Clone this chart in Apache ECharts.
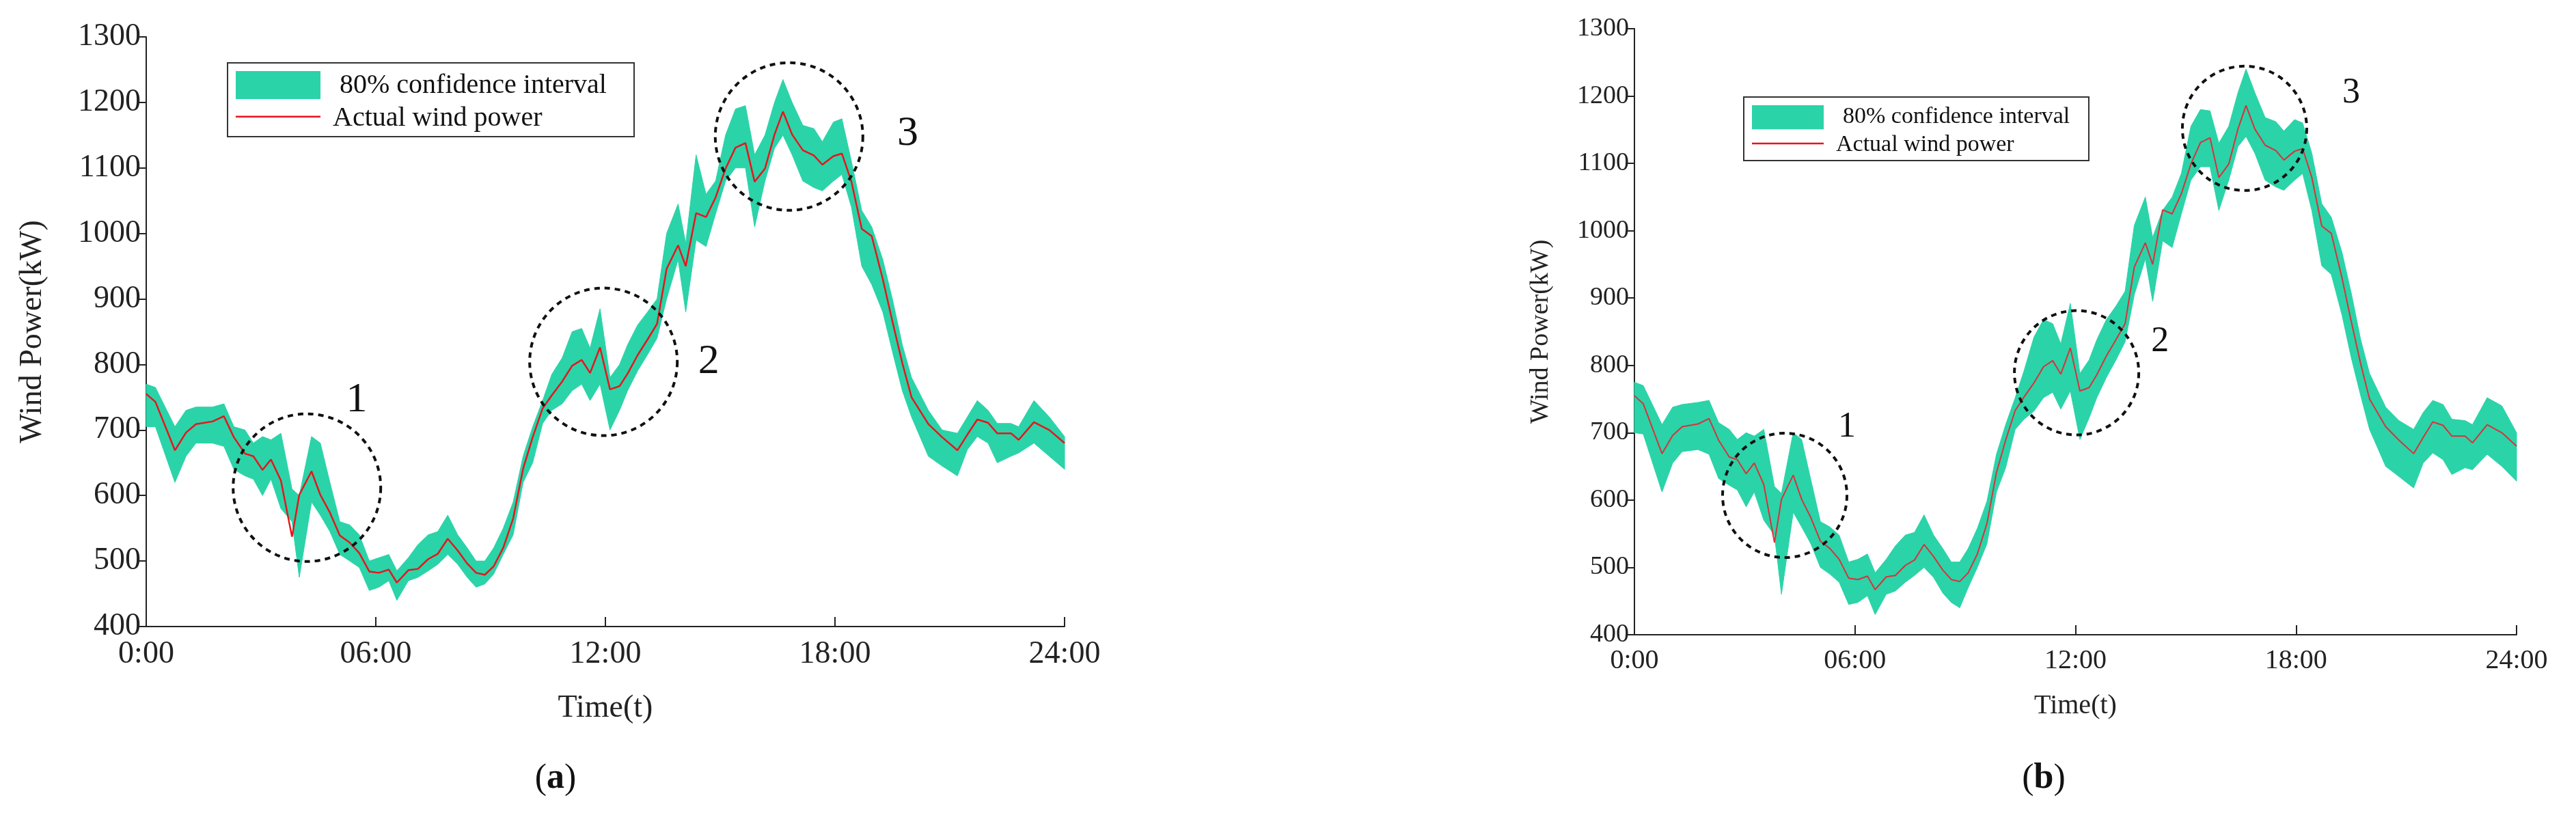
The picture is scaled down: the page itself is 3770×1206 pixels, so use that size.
<!DOCTYPE html>
<html><head><meta charset="utf-8">
<script src="https://cdn.jsdelivr.net/npm/echarts@6/dist/echarts.min.js"></script>
<style>html,body{margin:0;padding:0;background:#fff}#c{width:3770px;height:1206px}</style>
</head><body><div id="c"></div>
<script>
const times = [0,0.24,0.75,1.04,1.3,1.73,2.03,2.29,2.58,2.8,3.04,3.26,3.52,3.81,4.0,4.32,4.55,4.8,5.06,5.32,5.57,5.83,6.08,6.34,6.55,6.85,7.1,7.37,7.62,7.88,8.14,8.39,8.62,8.85,9.08,9.33,9.59,9.85,10.1,10.36,10.6,10.87,11.13,11.38,11.6,11.86,12.12,12.37,12.58,12.84,13.1,13.35,13.6,13.9,14.1,14.37,14.63,14.88,15.14,15.4,15.66,15.9,16.17,16.42,16.64,16.88,17.16,17.45,17.67,17.96,18.18,18.43,18.7,18.96,19.25,19.5,19.76,20.0,20.44,20.8,21.2,21.46,21.72,22.0,22.24,22.6,22.8,23.2,23.6,24];
const actual = [755,743,669,696,709,713,721,689,664,660,639,655,623,537,601,637,601,574,539,528,512,484,482,487,467,486,488,503,511,534,516,496,482,479,492,520,565,641,689,733,753,774,798,807,787,826,762,767,786,814,838,862,946,982,950,1031,1025,1055,1099,1131,1138,1079,1099,1151,1186,1151,1127,1119,1105,1118,1122,1079,1007,996,930,866,802,750,709,689,669,693,716,711,695,695,685,712,700,680];
const lowerA = [705,705,620,660,680,680,675,640,630,625,600,625,580,560,475,590,570,545,510,500,490,455,460,470,440,470,475,485,495,510,495,475,460,465,480,510,540,620,650,710,730,740,760,770,745,770,700,730,760,790,815,840,900,960,880,990,980,1030,1080,1100,1100,1010,1080,1130,1150,1120,1080,1070,1065,1080,1090,1040,950,922,880,820,760,720,660,645,630,670,690,680,650,660,665,680,660,640];
const upperA = [770,765,705,730,735,735,740,705,700,680,690,685,695,610,600,690,680,620,560,555,540,500,505,510,485,505,525,540,545,570,540,520,500,500,520,550,590,660,705,745,785,810,850,855,825,885,780,800,830,860,880,900,1000,1045,985,1120,1060,1080,1150,1190,1195,1120,1150,1200,1235,1200,1165,1160,1140,1170,1175,1110,1035,1010,960,900,830,780,730,700,695,720,745,730,710,710,705,745,720,690];
const lowerB = [700,698,612,655,672,675,668,632,622,615,590,612,570,548,460,582,560,535,500,490,478,445,448,458,430,460,465,478,488,500,485,462,448,440,470,500,535,612,648,705,720,732,752,760,735,762,690,722,752,782,808,835,905,958,895,985,975,1025,1075,1095,1095,1030,1075,1125,1140,1115,1075,1065,1060,1075,1085,1030,948,935,875,812,755,705,650,635,618,655,670,660,638,648,645,668,650,628];
const upperB = [775,770,712,738,742,745,748,715,705,690,700,695,705,620,610,700,690,630,568,560,548,508,512,520,492,512,532,548,552,578,548,528,508,508,528,558,598,668,712,752,792,842,868,862,832,892,788,808,838,868,888,910,1008,1050,990,1030,1050,1085,1155,1180,1178,1130,1155,1205,1240,1205,1168,1162,1148,1165,1160,1115,1040,1020,968,908,838,788,738,718,705,730,748,742,720,718,712,752,740,700];
const xTicks = ['0:00','06:00','12:00','18:00','24:00'];
const yTicks = [400,500,600,700,800,900,1000,1100,1200,1300];
const circlesA = [[4.2,612,'1',5.5,746],[11.95,804,'2',14.7,804],[16.8,1148,'3',19.9,1152]];
const circlesB = [[4.09,607,'1',5.78,708],[12.03,789,'2',14.3,835],[16.6,1152,'3',19.5,1204]];

const FONT = 'Liberation Serif';
const green = '#2bd3a8';
const pts = a => times.map((t,i)=>[t,a[i]]);
function band(lower, upper, gi){
  return {type:'custom', xAxisIndex:gi, yAxisIndex:gi, silent:true, z:2,
    data: times.map((t,i)=>[t,lower[i],upper[i]]),
    renderItem:(params, api)=>{
      if(params.dataIndex!==0) return;
      const up = times.map((t,i)=>api.coord([t,upper[i]]));
      const lo = times.map((t,i)=>api.coord([t,lower[i]])).reverse();
      return {type:'polygon', shape:{points:up.concat(lo)}, style:{fill:green, stroke:green, lineWidth:1}};
    }};
}
function xAxis(gi, fs){
  return {type:'value', gridIndex:gi, min:0, max:24, interval:6,
    axisLine:{lineStyle:{color:'#222', width:2}}, axisTick:{inside:true, length:14, lineStyle:{color:'#222',width:2}},
    splitLine:{show:false},
    axisLabel:{fontFamily:FONT, fontSize:fs, color:'#222', margin:18, formatter:v=>xTicks[v/6]},
    name:'Time(t)', nameLocation:'middle', nameGap:fs*2.1, nameTextStyle:{fontFamily:FONT, fontSize:fs, color:'#222'}};
}
function yAxis(gi, fs){
  return {type:'value', gridIndex:gi, min:400, max:1300, interval:100,
    axisLine:{show:true, lineStyle:{color:'#222', width:2}}, axisTick:{show:true, length:12, lineStyle:{color:'#222',width:2}},
    splitLine:{show:false},
    axisLabel:{fontFamily:FONT, fontSize:fs, color:'#222', margin:8, formatter:v=>String(yTicks[(v-400)/100])},
    name:'Wind Power(kW)', nameLocation:'middle', nameGap:fs*3.1, nameRotate:90, nameTextStyle:{fontFamily:FONT, fontSize:fs, color:'#222'}};
}
const chart = echarts.init(document.getElementById('c'));
chart.setOption({
  animation:false,
  grid:[{left:214, top:54, width:1344, height:863},{left:2392, top:42, width:1291, height:887}],
  xAxis:[xAxis(0,46), xAxis(1,40)],
  yAxis:[yAxis(0,46), yAxis(1,38)],
  series:[
    band(lowerA, upperA, 0),
    {type:'line', xAxisIndex:0, yAxisIndex:0, data:pts(actual), showSymbol:false, z:3, lineStyle:{color:'#e8141c', width:2.5}},
    band(lowerB, upperB, 1),
    {type:'line', xAxisIndex:1, yAxisIndex:1, data:pts(actual), showSymbol:false, z:3, lineStyle:{color:'#d9323a', width:2}}
  ]
});
const g = [];
function addCircles(list, gi, r, fs){
  list.forEach(c=>{
    const p = chart.convertToPixel({gridIndex:gi}, [c[0],c[1]]);
    const q = chart.convertToPixel({gridIndex:gi}, [c[3],c[4]]);
    g.push({type:'circle', shape:{cx:p[0], cy:p[1], r:r}, z:10, style:{fill:null, stroke:'#111', lineWidth:4, lineDash:[8,7]}});
    g.push({type:'text', x:q[0], y:q[1], z:10, style:{text:c[2], font:fs+'px "'+FONT+'"', fill:'#111', align:'center', verticalAlign:'middle'}});
  });
}
addCircles(circlesA, 0, 108, 62);
addCircles(circlesB, 1, 91, 52);
function legend(x,y,w,h,fs,sw){
  g.push({type:'rect', shape:{x:x,y:y,width:w,height:h}, z:11, style:{fill:'#fff', stroke:'#333', lineWidth:2}});
  g.push({type:'rect', shape:{x:x+12,y:y+12,width:sw,height:h*0.38}, z:12, style:{fill:green}});
  g.push({type:'line', shape:{x1:x+12,y1:y+h*0.73,x2:x+12+sw,y2:y+h*0.73}, z:12, style:{stroke:'#e8141c', lineWidth:2.5}});
  g.push({type:'text', x:x+sw+40, y:y+h*0.31, z:12, style:{text:'80% confidence interval', font:fs+'px "'+FONT+'"', fill:'#111', verticalAlign:'middle'}});
  g.push({type:'text', x:x+sw+30, y:y+h*0.75, z:12, style:{text:'Actual wind power', font:fs+'px "'+FONT+'"', fill:'#111', verticalAlign:'middle'}});
}
legend(333,92,595,108,40,124);
legend(2552,142,505,93,34,105);
g.push({type:'text', x:813, y:1140, style:{rich:{p:{font:'52px "'+FONT+'"', fill:'#111'}, b:{font:'bold 52px "'+FONT+'"', fill:'#111'}}, text:'{p|(}{b|a}{p|)}', align:'center', verticalAlign:'middle'}});
g.push({type:'text', x:2991, y:1140, style:{rich:{p:{font:'52px "'+FONT+'"', fill:'#111'}, b:{font:'bold 52px "'+FONT+'"', fill:'#111'}}, text:'{p|(}{b|b}{p|)}', align:'center', verticalAlign:'middle'}});
chart.setOption({graphic:g});
</script></body></html>
